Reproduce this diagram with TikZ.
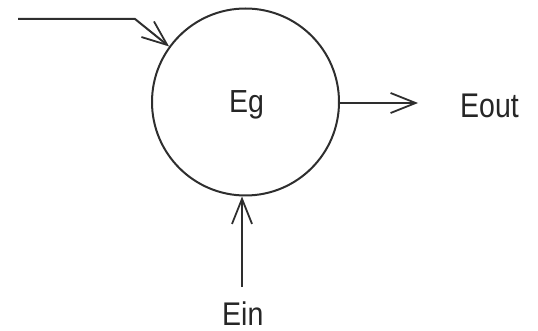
\documentclass[tikz,border=0pt]{standalone}
\usepackage{fontspec}
\setmainfont{Liberation Sans}
\usetikzlibrary{arrows.meta}
\begin{document}
\begin{tikzpicture}[x=1pt,y=-1pt,
  line/.style={line width=2pt, draw=black!82},
  vtip/.style={-{Straight Barb[length=25pt,width=20pt,line width=1.8pt]}},
  lbl/.style={inner sep=0pt, anchor=base west, text=black!85, font=\fontsize{28.5}{30}\selectfont}]
\useasboundingbox (0,0) rectangle (538,331);
\node[circle, line, minimum size=187pt, inner sep=0pt] (c) at (245.5,102) {};
\node[lbl] (eg) at (229,113) {\scalebox{1}[1.12]{Eg}};
\node[lbl] (eout) at (460,118) {\scalebox{1}[1.2]{Eout}};
\node[lbl] (ein) at (222,325) {\scalebox{1}[1.15]{Ein}};
\coordinate (s1) at (18,19);
\coordinate (k1) at (135,19);
\coordinate (t2) at (418,103);
\coordinate (s3) at (242,287);
\draw[line, vtip] (s1) -- (k1) -- (c.144.5);
\draw[line, vtip] (c.east |- t2) -- (t2);
\draw[line, vtip] (s3) -- (s3 |- c.south);
\end{tikzpicture}
\end{document}
